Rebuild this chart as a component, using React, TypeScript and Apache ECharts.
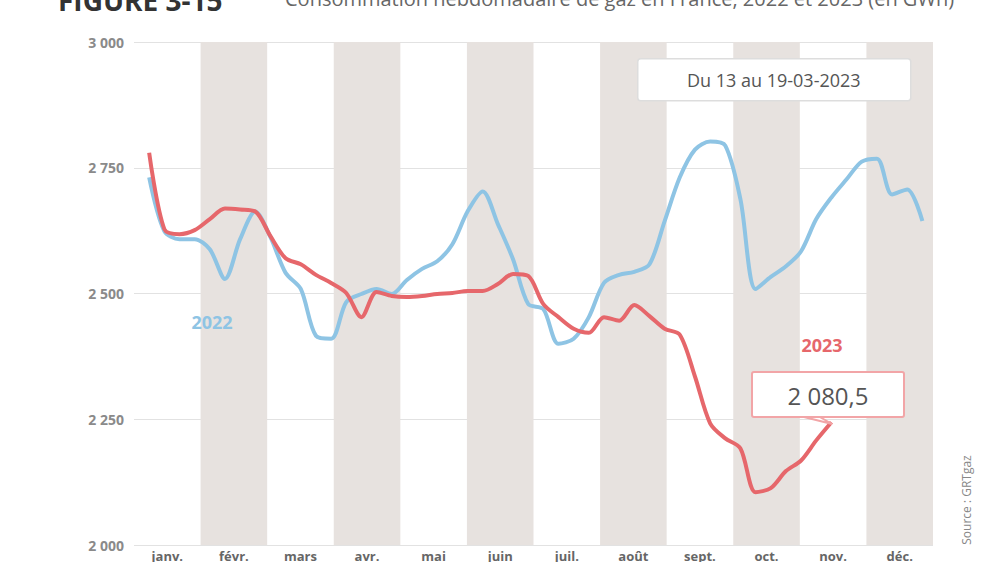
import React, { useEffect, useRef } from "react";
import * as echarts from "echarts";

const months = ["janv.", "févr.", "mars", "avr.", "mai", "juin", "juil.", "août", "sept.", "oct.", "nov.", "déc."];

const blue2022 = [
  2731, 2624, 2608, 2608, 2588, 2529, 2608, 2663, 2612, 2541, 2509, 2416, 2410,
  2483, 2499, 2509, 2499, 2527, 2549, 2564, 2598, 2663, 2703, 2638, 2568, 2479,
  2469, 2400, 2410, 2453, 2521, 2537, 2543, 2558, 2644, 2731, 2786, 2802, 2794,
  2687, 2509, 2533, 2554, 2584, 2648, 2691, 2727, 2762, 2768, 2697, 2707, 2644,
];

const red2023 = [
  2780, 2628, 2618, 2626, 2648, 2669, 2667, 2663, 2614, 2570, 2558, 2537, 2521,
  2501, 2453, 2503, 2495, 2493, 2495, 2499, 2501, 2505, 2505, 2519, 2539, 2535,
  2479, 2453, 2430, 2422, 2453, 2446, 2477, 2455, 2430, 2418, 2335, 2242, 2212,
  2192, 2105, 2113, 2147, 2168, 2208, 2244,
];

const yTicks = { min: 2000, max: 3000, interval: 250 };
const titleBold = "FIGURE 3-15";
const titleText = "Consommation hebdomadaire de gaz en France, 2022 et 2023 (en GWh)";
const periodText = "Du 13 au 19-03-2023";
const calloutValue = "2 080,5";
const sourceText = "Source : GRTgaz";

export default function App() {
  const ref = useRef<HTMLDivElement>(null);
  useEffect(() => {
    if (!ref.current) return;
    const chart = echarts.init(ref.current, null, { renderer: "svg" });
    const toPairs = (arr: number[]) => arr.map((v, i) => [i + 1, v]);
    chart.setOption({
      animation: false,
      backgroundColor: "#ffffff",
      grid: { left: 134, right: 67, top: 42, bottom: 15, containLabel: false },
      xAxis: [
        {
          type: "category",
          data: months,
          boundaryGap: true,
          axisLine: { show: false },
          axisTick: { show: false },
          axisLabel: { color: "#666", fontSize: 13, fontWeight: "bold", margin: 4, fontFamily: "Open Sans" },
          splitArea: { show: true, areaStyle: { color: ["rgba(255,255,255,0)", "#e7e2df"] } },
          splitLine: { show: false },
        },
        { type: "value", min: 0, max: 52.7, show: false },
      ],
      yAxis: {
        type: "value",
        min: yTicks.min,
        max: yTicks.max,
        interval: yTicks.interval,
        axisLine: { show: false },
        axisTick: { show: false },
        axisLabel: {
          color: "#8a8a8a",
          fontSize: 14,
          fontWeight: "bold",
          margin: 10,
          fontFamily: "Open Sans",
          formatter: (v: number) => String(v).replace(/\B(?=(\d{3})+(?!\d))/g, " "),
        },
        splitLine: { lineStyle: { color: "#e2e2e2", width: 1 } },
      },
      series: [
        {
          name: "2022",
          type: "line",
          xAxisIndex: 1,
          data: toPairs(blue2022),
          showSymbol: false,
          smooth: 0.3,
          lineStyle: { color: "#8ec4e4", width: 4 },
          z: 3,
        },
        {
          name: "2023",
          type: "line",
          xAxisIndex: 1,
          data: toPairs(red2023),
          showSymbol: false,
          smooth: 0.3,
          lineStyle: { color: "#e6676b", width: 4 },
          z: 4,
        },
      ],
      graphic: [
        {
          type: "text",
          left: 58,
          top: -14,
          z: 100,
          style: { text: titleBold, font: "bold 28px 'Open Sans'", fill: "#333" },
        },
        {
          type: "text",
          left: 285,
          top: -12,
          z: 100,
          style: { text: titleText, font: "20px 'Open Sans'", fill: "#666" },
        },
        {
          type: "group",
          left: 637,
          top: 58,
          z: 100,
          children: [
            { type: "rect", z: 100, shape: { x: 0, y: 0, width: 273, height: 42, r: 3 }, style: { fill: "#fff", stroke: "#dddddd", lineWidth: 1.5 } },
            { type: "text", z: 101, x: 136, y: 21, style: { text: periodText, font: "18px 'Open Sans'", fill: "#555", align: "center", verticalAlign: "middle" } },
          ],
        },
        {
          type: "text",
          x: 212,
          y: 322,
          z: 100,
          style: { text: "2022", font: "bold 18px 'Open Sans'", fill: "#8ec4e4", align: "center", verticalAlign: "middle" },
        },
        {
          type: "text",
          x: 822,
          y: 345,
          z: 100,
          style: { text: "2023", font: "bold 18px 'Open Sans'", fill: "#e6676b", align: "center", verticalAlign: "middle" },
        },
        {
          type: "polygon",
          z: 100,
          shape: { points: [[800, 416], [832, 424], [818, 416]] },
          style: { fill: "#fff", stroke: "#f2a5a7", lineWidth: 2 },
        },
        {
          type: "rect",
          z: 101,
          shape: { x: 752, y: 372, width: 152, height: 45, r: 2 },
          style: { fill: "#fff", stroke: "#f2a5a7", lineWidth: 2 },
        },
        {
          type: "text",
          x: 828,
          y: 395,
          z: 102,
          style: { text: calloutValue, font: "24px 'Open Sans'", fill: "#555", align: "center", verticalAlign: "middle" },
        },
        {
          type: "text",
          x: 966,
          y: 500,
          z: 100,
          rotation: Math.PI / 2,
          style: { text: sourceText, font: "12px 'Open Sans'", fill: "#888", align: "center", verticalAlign: "middle" },
        },
      ],
    });
    return () => chart.dispose();
  }, []);
  return <div ref={ref} style={{ position: "absolute", left: 0, top: 0, width: 1000, height: 562 }} />;
}
